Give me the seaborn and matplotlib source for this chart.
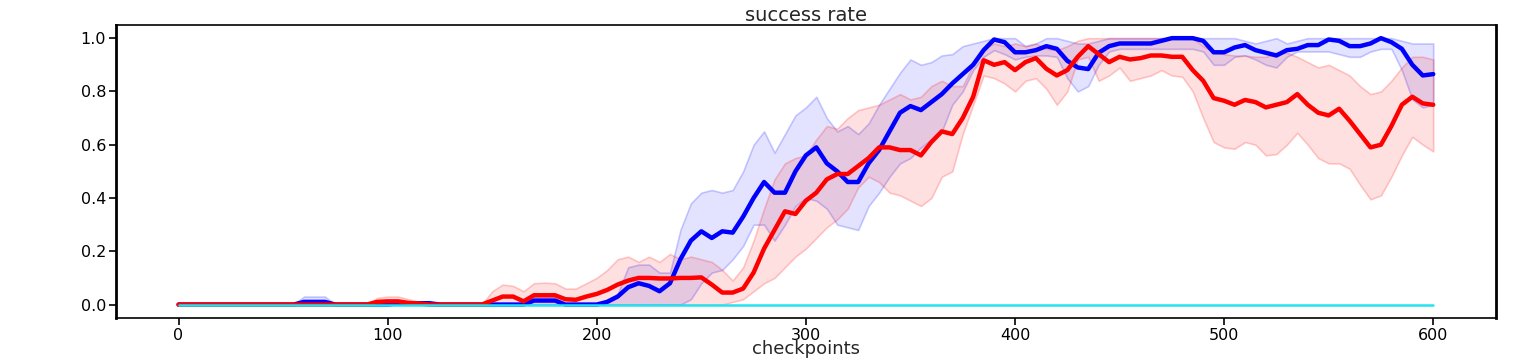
import matplotlib
matplotlib.use("Agg")
import matplotlib.pyplot as plt
import seaborn as sns
import numpy as np
import pandas as pd

# checkpoints sampled every 5
checkpoints = list(range(0, 601, 5))

# blue run: mean, upper and lower band
blue_mean = [0]*12 + [0.01, 0.01, 0.01, 0] + [0]*5 + [0.005, 0.005, 0.005, 0.005] + [0]*9 + \
    [0.015, 0.015, 0.015, 0, 0, 0, 0,
     0.01, 0.03, 0.065, 0.08, 0.07, 0.05, 0.08, 0.17, 0.24, 0.275, 0.25, 0.275, 0.27, 0.33,
     0.4, 0.46, 0.42, 0.42, 0.5, 0.56, 0.59, 0.53, 0.5, 0.46, 0.46, 0.53, 0.58, 0.65,
     0.72, 0.745, 0.73, 0.76, 0.79, 0.83, 0.865, 0.9, 0.955, 0.995, 0.985, 0.947, 0.947,
     0.955, 0.97, 0.96, 0.915, 0.89, 0.884, 0.945, 0.97, 0.98, 0.98, 0.98, 0.98, 0.99,
     1.0, 1.0, 1.0, 0.99, 0.947, 0.947, 0.965, 0.974, 0.955, 0.945, 0.935, 0.955, 0.96,
     0.974, 0.974, 0.995, 0.99, 0.97, 0.97, 0.98, 1.0, 0.985, 0.96, 0.9, 0.86, 0.865]
blue_upper = [0]*12 + [0.03, 0.03, 0.03, 0] + [0]*5 + [0.01, 0.01, 0.01, 0.01] + [0]*9 + \
    [0.03, 0.03, 0.03, 0, 0, 0, 0,
     0.02, 0.04, 0.14, 0.15, 0.15, 0.12, 0.12, 0.28, 0.38, 0.42, 0.43, 0.42, 0.43, 0.5,
     0.6, 0.65, 0.57, 0.64, 0.71, 0.74, 0.78, 0.7, 0.65, 0.67, 0.64, 0.68, 0.75, 0.81,
     0.87, 0.92, 0.9, 0.91, 0.935, 0.94, 0.97, 0.98, 0.99, 1.0, 1.0, 1.0, 0.97,
     0.98, 1.0, 1.0, 0.99, 0.98, 0.98, 0.99, 1.0, 1.0, 1.0, 1.0, 1.0, 1.0,
     1.0, 1.0, 1.0, 1.0, 1.0, 1.0, 1.0, 0.99, 0.98, 0.99, 1.0, 0.98, 0.99,
     1.0, 1.0, 1.0, 1.0, 1.0, 1.0, 1.0, 1.0, 1.0, 0.99, 0.98, 0.98, 0.98]
blue_lower = [0]*49 + \
    [0.02, 0.08, 0.12, 0.13, 0.17, 0.22, 0.3, 0.3, 0.24, 0.3, 0.37, 0.4, 0.39, 0.36,
     0.3, 0.29, 0.28, 0.37, 0.42, 0.48, 0.53, 0.55, 0.59, 0.62, 0.65, 0.75, 0.8, 0.88,
     0.93, 0.955, 0.94, 0.92, 0.93, 0.935, 0.935, 0.93, 0.85, 0.8, 0.82, 0.9, 0.95, 0.96,
     0.96, 0.96, 0.96, 0.96, 0.96, 0.96, 0.96, 0.95, 0.9, 0.9, 0.93, 0.935, 0.92, 0.9,
     0.89, 0.93, 0.95, 0.95, 0.95, 0.95, 0.94, 0.93, 0.93, 0.95, 0.96, 0.96, 0.88, 0.77,
     0.74, 0.75]

# red run: mean, upper and lower band
red_mean = [0]*19 + [0.01, 0.012, 0.012, 0.006, 0.004, 0] + [0]*5 + \
    [0.015, 0.03, 0.03, 0.012, 0.035, 0.035, 0.035, 0.02, 0.018, 0.03, 0.04, 0.055, 0.075,
     0.09, 0.1, 0.1, 0.098, 0.098, 0.1, 0.1, 0.102, 0.075, 0.045, 0.045, 0.06, 0.12, 0.21,
     0.28, 0.35, 0.34, 0.39, 0.42, 0.47, 0.49, 0.49, 0.52, 0.55, 0.59, 0.59, 0.58, 0.58,
     0.56, 0.61, 0.65, 0.64, 0.7, 0.78, 0.917, 0.9, 0.91, 0.88, 0.91, 0.925, 0.885, 0.86,
     0.88, 0.93, 0.97, 0.94, 0.91, 0.93, 0.92, 0.925, 0.935, 0.935, 0.93, 0.93, 0.88, 0.84,
     0.775, 0.765, 0.75, 0.768, 0.76, 0.74, 0.75, 0.76, 0.79, 0.75, 0.72, 0.71, 0.735, 0.69,
     0.64, 0.59, 0.6, 0.67, 0.75, 0.78, 0.755, 0.75]
red_upper = [0]*19 + [0.025, 0.03, 0.03, 0.02, 0.01, 0] + [0]*5 + \
    [0.05, 0.075, 0.07, 0.05, 0.08, 0.082, 0.08, 0.06, 0.06, 0.08, 0.1, 0.13, 0.17,
     0.18, 0.16, 0.18, 0.16, 0.19, 0.17, 0.18, 0.17, 0.16, 0.13, 0.09, 0.14, 0.24, 0.36,
     0.47, 0.53, 0.55, 0.56, 0.62, 0.67, 0.66, 0.7, 0.73, 0.74, 0.75, 0.77, 0.79, 0.77,
     0.78, 0.82, 0.84, 0.82, 0.82, 0.9, 0.96, 0.98, 0.97, 0.98, 0.97, 0.98, 0.96, 0.955,
     0.97, 0.99, 1.0, 1.0, 1.0, 1.0, 1.0, 1.0, 1.0, 1.0, 1.0, 1.0, 1.0, 0.97,
     0.95, 0.94, 0.935, 0.935, 0.93, 0.93, 0.945, 0.945, 0.93, 0.91, 0.89, 0.9, 0.88, 0.86,
     0.82, 0.79, 0.8, 0.84, 0.89, 0.93, 0.93, 0.92]
red_lower = [0]*53 + \
    [0.01, 0.02, 0.05, 0.08, 0.1, 0.14, 0.18, 0.21, 0.25, 0.29, 0.32, 0.36, 0.44, 0.48,
     0.46, 0.42, 0.41, 0.39, 0.37, 0.4, 0.48, 0.5, 0.64, 0.75, 0.86, 0.85, 0.83, 0.8,
     0.84, 0.85, 0.81, 0.75, 0.8, 0.92, 0.93, 0.84, 0.86, 0.89, 0.84, 0.85, 0.86, 0.88,
     0.86, 0.855, 0.8, 0.7, 0.61, 0.59, 0.585, 0.61, 0.6, 0.56, 0.565, 0.6, 0.645, 0.6,
     0.55, 0.53, 0.53, 0.51, 0.45, 0.395, 0.41, 0.48, 0.56, 0.63, 0.6, 0.575]

# third run stays at zero
cyan_mean = [0]*len(checkpoints)

df = pd.DataFrame({"checkpoints": checkpoints,
                   "blue": blue_mean, "blue_up": blue_upper, "blue_lo": blue_lower,
                   "red": red_mean, "red_up": red_upper, "red_lo": red_lower,
                   "cyan": cyan_mean})

sns.set_style("ticks")
plt.rcParams['font.family'] = ['DejaVu Sans']

fig, ax = plt.subplots(figsize=(15.24, 3.6), dpi=100)
fig.subplots_adjust(left=0.076, right=0.9816, top=0.931, bottom=0.117)

ax.fill_between(df["checkpoints"], df["blue_lo"], df["blue_up"],
                facecolor=(0, 0, 1, 0.11), edgecolor=(0, 0, 1, 0.2), linewidth=1.2)
ax.fill_between(df["checkpoints"], df["red_lo"], df["red_up"],
                facecolor=(1, 0, 0, 0.12), edgecolor=(1, 0, 0, 0.2), linewidth=1.2)

sns.lineplot(data=df, x="checkpoints", y="blue", color="blue", lw=3.2, ax=ax)
sns.lineplot(data=df, x="checkpoints", y="red", color="red", lw=3.2, ax=ax)
sns.lineplot(data=df, x="checkpoints", y="cyan", color="#22e3ef", lw=1.8, ax=ax)

ax.set_xticks(range(0, 601, 100))
ax.set_yticks(np.arange(0, 1.01, 0.2))
ax.set_yticklabels(["0.0", "0.2", "0.4", "0.6", "0.8", "1.0"])
ax.tick_params(labelsize=11.5, length=5, width=1.2, colors="black", pad=2)
ax.set_title("success rate", fontsize=14, pad=3)
ax.set_xlabel("checkpoints", fontsize=13)
ax.xaxis.set_label_coords(0.5, -0.075)
ax.set_ylabel("")
for s in ax.spines.values():
    s.set_color("black")
    s.set_linewidth(1.2)
ax.spines["left"].set_linewidth(2)
ax.spines["right"].set_linewidth(2)

fig.savefig("out.png", dpi=100)
